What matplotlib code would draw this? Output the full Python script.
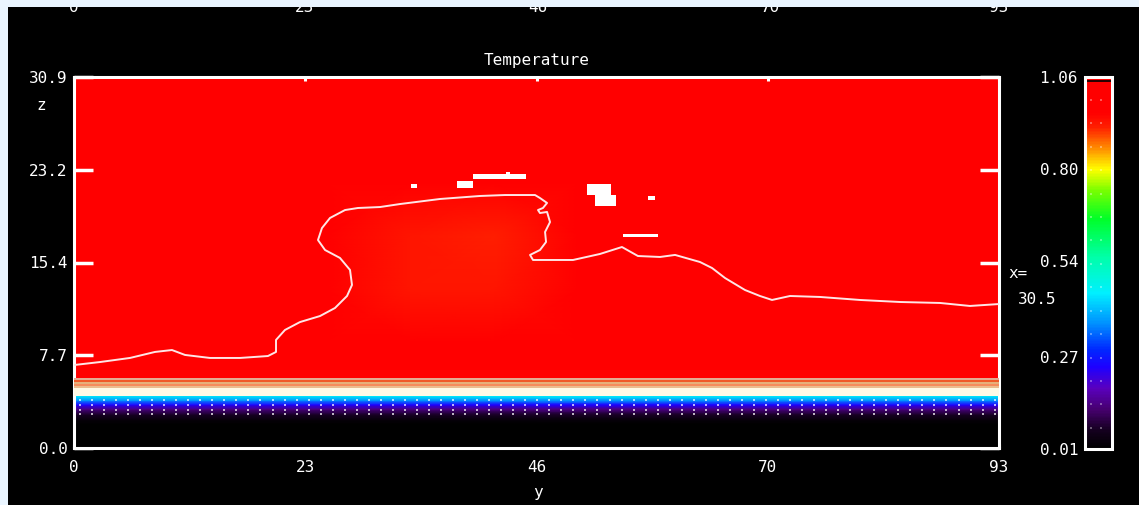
import numpy as np
import matplotlib
matplotlib.use("Agg")
import matplotlib.pyplot as plt
from matplotlib.colors import LinearSegmentedColormap, Normalize
from matplotlib.patches import Rectangle
from matplotlib.cm import ScalarMappable

plt.rcParams["font.family"] = "DejaVu Sans Mono"
plt.rcParams["font.size"] = 11.5

W, H = 1139, 505
BG = "#eaf5ff"

Y_MAX = 93.0
Z_MAX = 30.9
T_MIN, T_MAX = 0.01, 1.06

y_ticks = [0, 23.25, 46.5, 69.75, 93]
y_tick_labels = ["0", "23", "46", "70", "93"]
z_ticks = [0, 7.725, 15.45, 23.175, 30.9]
z_tick_labels = ["0.0", "7.7", "15.4", "23.2", "30.9"]
cbar_ticks = [0.01, 0.27, 0.54, 0.80, 1.06]
cbar_labels = ["0.01", "0.27", "0.54", "0.80", "1.06"]

# colour scale: black -> purple -> blue -> cyan -> green -> yellow -> red
cmap_values = [0.01, 0.06, 0.12, 0.18, 0.24, 0.29, 0.36, 0.45, 0.55,
               0.66, 0.74, 0.80, 0.86, 0.92, 0.96, 1.06]
cmap_colors = ["#000000", "#14001e", "#46006e", "#5a00be", "#1e00ff",
               "#0028ff", "#008cff", "#00f0ff", "#00ffaa", "#00ff28",
               "#78ff00", "#ffff00", "#ff8c00", "#ff1e00", "#ff0000",
               "#ff0000"]

# temperature aloft on a coarse grid, rows from top (z=30.9) to bottom
warm_field = [
    [1.00, 1.00, 1.00, 1.00, 1.00, 1.00, 1.00, 1.00, 1.00, 1.00, 1.00, 1.00],
    [1.00, 1.00, 1.00, 1.00, 1.00, 1.00, 1.00, 1.00, 1.00, 1.00, 1.00, 1.00],
    [1.00, 1.00, 1.00, 1.00, 1.00, 1.00, 1.00, 1.00, 1.00, 1.00, 1.00, 1.00],
    [1.00, 1.00, 1.00, 0.98, 0.93, 0.92, 1.00, 1.00, 1.00, 1.00, 1.00, 1.00],
    [1.00, 1.00, 1.00, 0.98, 0.93, 0.93, 1.00, 1.00, 1.00, 1.00, 1.00, 1.00],
    [1.00, 1.00, 1.00, 1.00, 0.98, 0.98, 1.00, 1.00, 1.00, 1.00, 1.00, 1.00],
    [1.00, 1.00, 1.00, 1.00, 1.00, 1.00, 1.00, 1.00, 1.00, 1.00, 1.00, 1.00],
    [1.00, 1.00, 1.00, 1.00, 1.00, 1.00, 1.00, 1.00, 1.00, 1.00, 1.00, 1.00],
]

# cold surface layer profile
layer_z = [0.0, 2.0, 2.35, 2.8, 3.25, 3.6, 3.95, 4.33]
layer_t = [0.01, 0.01, 0.03, 0.07, 0.14, 0.24, 0.36, 0.46]

# thin stripes on top of the surface layer
stripe_bottom = [4.33, 5.00, 5.16, 5.33, 5.50, 5.66]
stripe_top = [5.00, 5.16, 5.33, 5.50, 5.66, 5.83]
stripe_colors = ["#fffae6", "#ebbd8e", "#f58c5c", "#e6b07a", "#f05a28", "#e3aa92"]

# isotherm
contour_y = [0.0, 2.61, 5.63, 8.14, 9.85, 11.16, 13.67, 16.69, 19.50, 20.31,
             20.31, 21.21, 22.72, 24.73, 26.24, 27.45, 27.95, 27.75, 26.74,
             25.24, 24.53, 24.93, 25.74, 27.25, 28.55, 30.77, 32.78, 36.80,
             40.82, 43.33, 46.35, 46.85, 47.56, 47.15, 46.65, 46.85, 47.56,
             47.86, 47.36, 47.46, 46.85, 45.85, 46.15, 50.17, 52.88, 55.09,
             56.70, 58.92, 60.43, 62.94, 64.15, 65.45, 67.46, 68.97, 70.18,
             71.99, 75.00, 79.02, 83.05, 87.07, 90.08, 93.0]
contour_z = [6.91, 7.16, 7.50, 8.00, 8.16, 7.75, 7.50, 7.50, 7.66, 8.00,
             9.00, 9.83, 10.49, 10.99, 11.66, 12.66, 13.58, 14.83, 15.83,
             16.49, 17.32, 18.32, 19.16, 19.82, 19.99, 20.07, 20.32, 20.74,
             20.99, 21.07, 21.07, 20.82, 20.41, 19.99, 19.82, 19.57, 19.66,
             18.82, 17.99, 17.16, 16.49, 16.08, 15.66, 15.66, 16.16, 16.74,
             15.99, 15.91, 16.08, 15.49, 14.99, 14.16, 13.16, 12.66, 12.33,
             12.66, 12.58, 12.33, 12.16, 12.08, 11.83, 11.99]

# cells above the top of the scale
patch_y0 = [33.88, 38.51, 40.12, 43.43, 51.58, 52.38, 57.71, 55.20]
patch_y1 = [34.49, 40.12, 45.44, 43.84, 53.99, 54.49, 58.41, 58.72]
patch_z0 = [21.66, 21.66, 22.40, 22.82, 21.07, 20.16, 20.66, 17.57]
patch_z1 = [21.99, 22.24, 22.82, 22.99, 21.99, 21.07, 20.99, 17.82]

norm = Normalize(vmin=T_MIN, vmax=T_MAX)
cmap = LinearSegmentedColormap.from_list(
    "temp", list(zip([(v - T_MIN) / (T_MAX - T_MIN) for v in cmap_values], cmap_colors)))

fig = plt.figure(figsize=(W / 100, H / 100), dpi=100, facecolor=BG)
fig.patches.append(Rectangle((8 / W, 0), 1, 1 - 7 / H, transform=fig.transFigure,
                             facecolor="black", edgecolor="none", zorder=-1))

ax = fig.add_axes([74 / W, 1 - 448 / H, 925 / W, 371 / H])
ax.set_facecolor("red")

warm = np.array(warm_field)
grid_y = np.linspace(0, Y_MAX, warm.shape[1])
grid_z = np.linspace(Z_MAX, 0, warm.shape[0])
ax.pcolormesh(grid_y, grid_z, warm, shading="gouraud", cmap=cmap, norm=norm, zorder=1)
ax.pcolormesh(np.array([0, Y_MAX]), np.array(layer_z),
              np.column_stack([layer_t, layer_t]), shading="gouraud",
              cmap=cmap, norm=norm, zorder=2)
for b, t, c in zip(stripe_bottom, stripe_top, stripe_colors):
    ax.axhspan(b, t, color=c, lw=0, zorder=3)

# grid dots in the surface layer
dot_x = np.arange(0.6, Y_MAX, 1.21)
for zr in [4.0, 3.58, 3.16, 2.83]:
    ax.scatter(dot_x, np.full(dot_x.shape, zr), s=2, marker="s", color="white",
               alpha=0.7, linewidths=0, zorder=4)

ax.plot(contour_y, contour_z, color="#ffe6e6", lw=1.4, zorder=5)
for y0, y1, z0, z1 in zip(patch_y0, patch_y1, patch_z0, patch_z1):
    ax.add_patch(Rectangle((y0, z0), y1 - y0, z1 - z0, facecolor="white",
                           edgecolor="none", zorder=5))

ax.set_xlim(0, Y_MAX)
ax.set_ylim(0, Z_MAX)
ax.set_xticks(y_ticks, labels=y_tick_labels)
ax.set_yticks(z_ticks, labels=z_tick_labels)
ax.tick_params(axis="x", direction="in", top=True, bottom=True, length=3,
               width=2.2, color="white", labelcolor="white", pad=9)
ax.tick_params(axis="y", direction="in", left=True, right=True, length=13.5,
               width=2.5, color="white", labelcolor="white", pad=4.5)
for s in ax.spines.values():
    s.set_color("white")
    s.set_linewidth(2.2)

fig.text(537 / W, 1 - 60 / H, "Temperature", ha="center", va="center", color="white")
fig.text(41 / W, 1 - 106 / H, "z", ha="center", va="center", color="white")
fig.text(538 / W, 1 - 493 / H, "y", ha="center", va="center", color="white")
fig.text(1018 / W, 1 - 273 / H, "x=", ha="center", va="center", color="white")
fig.text(1037 / W, 1 - 300 / H, "30.5", ha="center", va="center", color="white")

# labels of the panel above, cut by the edge
for px, lab in zip([74, 305, 538, 770, 999], y_tick_labels):
    fig.text(px / W, 1 - 7 / H, lab, ha="center", va="center", color="white", zorder=5)
fig.patches.append(Rectangle((0, 1 - 7 / H), 1, 7 / H, transform=fig.transFigure,
                             facecolor=BG, edgecolor="none", zorder=10))

cax = fig.add_axes([1085 / W, 1 - 449 / H, 27 / W, 372 / H])
cb = fig.colorbar(ScalarMappable(norm=norm, cmap=cmap), cax=cax)
cb.set_ticks(cbar_ticks, labels=cbar_labels)
cax.yaxis.set_ticks_position("left")
cax.tick_params(length=0, pad=5, colors="white")
cb.outline.set_edgecolor("white")
cb.outline.set_linewidth(2.2)
cax.axhline(1.049, color="black", lw=1.2)
dot_t = np.linspace(0.995, 0.07, 15)
for xc in [0.22, 0.59]:
    cax.scatter(np.full(dot_t.shape, xc), dot_t, s=2, marker="s", color="white",
                alpha=0.35, linewidths=0, zorder=4)

fig.savefig("out.png", dpi=100, facecolor=BG)
